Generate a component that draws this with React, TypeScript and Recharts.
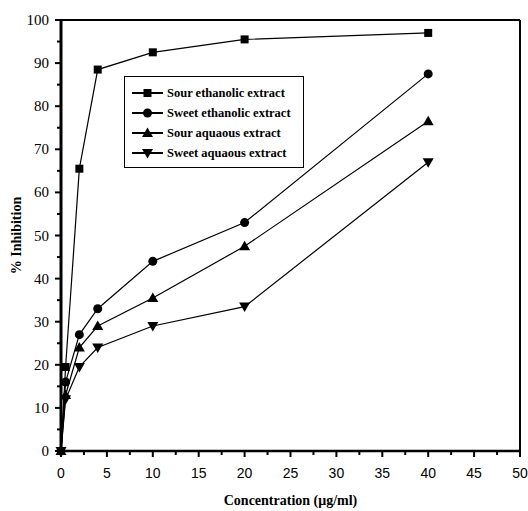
import { LineChart, Line, XAxis, YAxis, ReferenceLine, Legend } from 'recharts';

const concentrations = [0, 0.5, 2, 4, 10, 20, 40];
const sourEthanolic = [0, 19.5, 65.5, 88.5, 92.5, 95.5, 97];
const sweetEthanolic = [0, 16, 27, 33, 44, 53, 87.5];
const sourAqueous = [0, 13, 24, 29, 35.5, 47.5, 76.5];
const sweetAqueous = [0, 12, 19.5, 24, 29, 33.5, 67];

const xTicks = [0, 2.5, 5, 7.5, 10, 12.5, 15, 17.5, 20, 22.5, 25, 27.5, 30, 32.5, 35, 37.5, 40, 42.5, 45, 47.5, 50];
const yTicks = [0, 5, 10, 15, 20, 25, 30, 35, 40, 45, 50, 55, 60, 65, 70, 75, 80, 85, 90, 95, 100];

const data = concentrations.map((c, i) => ({
  conc: c,
  sourEth: sourEthanolic[i],
  sweetEth: sweetEthanolic[i],
  sourAq: sourAqueous[i],
  sweetAq: sweetAqueous[i],
}));

const SERIF = '"Liberation Serif", "Times New Roman", serif';
const SANS = '"Liberation Sans", Arial, sans-serif';

type Shape = 'square' | 'circle' | 'up' | 'down';

function Marker({ shape, cx, cy }: { shape: Shape; cx: number; cy: number }) {
  if (shape === 'square') return <rect x={cx - 4} y={cy - 4} width={8} height={8} fill="#000" />;
  if (shape === 'circle') return <circle cx={cx} cy={cy} r={4.5} fill="#000" />;
  if (shape === 'up')
    return <polygon points={`${cx},${cy - 5.5} ${cx + 5.5},${cy + 4} ${cx - 5.5},${cy + 4}`} fill="#000" />;
  return <polygon points={`${cx},${cy + 5.5} ${cx + 5.5},${cy - 4} ${cx - 5.5},${cy - 4}`} fill="#000" />;
}

const series: { key: string; name: string; shape: Shape }[] = [
  { key: 'sourEth', name: 'Sour ethanolic extract', shape: 'square' },
  { key: 'sweetEth', name: 'Sweet ethanolic extract', shape: 'circle' },
  { key: 'sourAq', name: 'Sour aquaous extract', shape: 'up' },
  { key: 'sweetAq', name: 'Sweet aquaous extract', shape: 'down' },
];

function XTick(props: any) {
  const { x, y, payload } = props;
  const major = payload.value % 5 === 0;
  return (
    <g>
      <line x1={x} y1={y} x2={x} y2={y + (major ? 6 : 4)} stroke="#000" strokeWidth={2} />
      {major && (
        <text x={x} y={y + 27} textAnchor="middle" fontFamily={SANS} fontSize={14} fill="#000">
          {payload.value}
        </text>
      )}
    </g>
  );
}

function YTick(props: any) {
  const { x, y, payload } = props;
  const major = payload.value % 10 === 0;
  return (
    <g>
      <line x1={x} y1={y} x2={x - (major ? 6 : 4)} y2={y} stroke="#000" strokeWidth={2} />
      {major && (
        <text x={x - 12} y={y + 5} textAnchor="end" fontFamily={SERIF} fontSize={15} fill="#000">
          {payload.value}
        </text>
      )}
    </g>
  );
}

function LegendBox() {
  return (
    <div
      style={{
        border: '1px solid #000',
        background: '#fff',
        width: 164,
        padding: '6px 8px 4px 6px',
        fontFamily: SERIF,
        fontWeight: 'bold',
        fontSize: 12.5,
        lineHeight: '20px',
        color: '#000',
      }}
    >
      {series.map((s) => (
        <div key={s.key} style={{ display: 'flex', alignItems: 'center', whiteSpace: 'nowrap' }}>
          <svg width={33} height={12} style={{ flex: 'none', marginRight: 3 }}>
            <line x1={1} y1={6} x2={32} y2={6} stroke="#000" strokeWidth={2} />
            <Marker shape={s.shape} cx={16.5} cy={6} />
          </svg>
          <span>{s.name}</span>
        </div>
      ))}
    </div>
  );
}

export default function App() {
  return (
    <div style={{ position: 'absolute', left: 0, top: 0, background: '#fff' }}>
      <LineChart width={528} height={511} data={data} margin={{ top: 20, right: 8, left: 0, bottom: 0 }}>
        <XAxis
          dataKey="conc"
          type="number"
          domain={[0, 50]}
          ticks={xTicks}
          interval={0}
          height={60}
          tickSize={0}
          tickMargin={0}
          tickLine={false}
          tick={<XTick />}
          axisLine={{ stroke: '#000', strokeWidth: 2.5 }}
          label={{
            content: (p: any) => (
              <text
                x={p.viewBox.x + p.viewBox.width / 2}
                y={p.viewBox.y + 54}
                textAnchor="middle"
                fontFamily={SERIF}
                fontWeight="bold"
                fontSize={14}
                fill="#000"
              >
                Concentration (μg/ml)
              </text>
            ),
          }}
        />
        <YAxis
          type="number"
          domain={[0, 100]}
          ticks={yTicks}
          interval={0}
          width={61}
          tickSize={0}
          tickMargin={0}
          tickLine={false}
          tick={<YTick />}
          axisLine={{ stroke: '#000', strokeWidth: 3 }}
          label={{
            content: (p: any) => {
              const cx = p.viewBox.x + 18;
              const cy = p.viewBox.y + p.viewBox.height / 2;
              return (
                <text
                  x={cx}
                  y={cy}
                  transform={`rotate(-90 ${cx} ${cy})`}
                  textAnchor="middle"
                  dominantBaseline="middle"
                  fontFamily={SERIF}
                  fontWeight="bold"
                  fontSize={14}
                  fill="#000"
                >
                  % Inhibition
                </text>
              );
            },
          }}
        />
        <ReferenceLine y={100} stroke="#000" strokeWidth={2} />
        <ReferenceLine x={50} stroke="#000" strokeWidth={2} />
        {series.map((s) => (
          <Line
            key={s.key}
            dataKey={s.key}
            name={s.name}
            type="linear"
            stroke="#000"
            strokeWidth={1.2}
            isAnimationActive={false}
            dot={(p: any) => <Marker key={`${s.key}-${p.index}`} shape={s.shape} cx={p.cx} cy={p.cy} />}
            activeDot={false}
          />
        ))}
        <Legend
          layout="horizontal"
          verticalAlign="middle"
          align="center"
          content={<LegendBox />}
          wrapperStyle={{ position: 'absolute', left: 124, top: 76, width: 'auto' }}
        />
      </LineChart>
    </div>
  );
}
